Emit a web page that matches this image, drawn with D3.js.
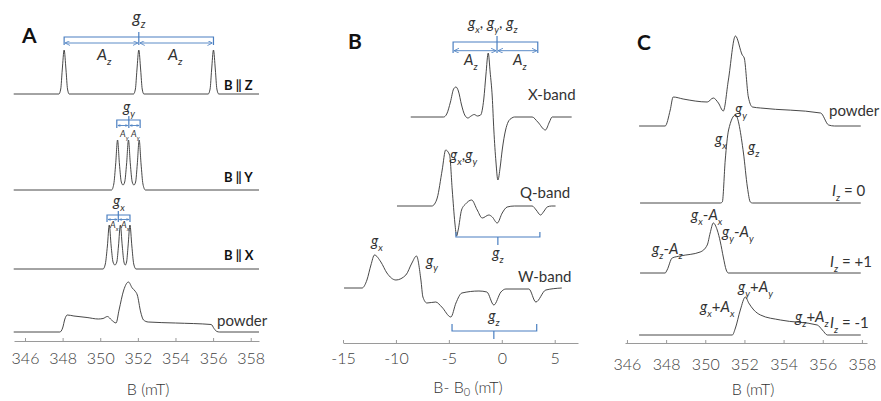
<!DOCTYPE html>
<html>
<head>
<meta charset="utf-8">
<script src="https://cdn.jsdelivr.net/npm/d3@7"></script>
<style>
  body { margin: 0; background: #fff; }
  svg { display: block; font-family: Lato, "Open Sans", sans-serif; }
  text { white-space: pre; }
</style>
</head>
<body>
<svg id="chart" width="881" height="401"></svg>
<script>
// ---- tick values
const ticksA = [346, 348, 350, 352, 354, 356, 358];
const ticksB = [-15, -10, -5, 0, 5];
const ticksC = [346, 348, 350, 352, 354, 356, 358];

// ---- Panel A spectra: [B (mT), intensity (a.u.)]
const specZ = [[345.4,0],[347.8,0],[347.9,0.5],[347.98,2.4],[348.08,4.4],[348.18,2.4],[348.26,0.5],[348.35,0],
  [351.77,0],[351.87,0.5],[351.95,2.4],[352.05,4.4],[352.15,2.4],[352.23,0.5],[352.32,0],
  [355.74,0],[355.84,0.5],[355.92,2.4],[356.02,4.4],[356.12,2.4],[356.2,0.5],[356.3,0],[358.44,0]];
const specY = [[345.4,0],[350.6,0],[350.72,0.6],[350.82,2.6],[350.92,5.0],[351.02,2.6],[351.12,0.8],[351.21,0.5],
  [351.3,0.8],[351.4,2.6],[351.5,5.0],[351.6,2.6],[351.7,0.8],[351.79,0.5],[351.88,0.8],[351.97,2.6],
  [352.07,5.0],[352.17,2.6],[352.27,0.6],[352.4,0],[358.44,0]];
const specX = [[345.4,0],[350.15,0],[350.27,0.5],[350.38,2.3],[350.48,4.4],[350.58,2.3],[350.68,0.7],[350.78,0.4],
  [350.88,0.7],[350.97,2.3],[351.07,4.4],[351.17,2.3],[351.26,0.7],[351.33,0.4],[351.4,0.7],[351.48,2.3],
  [351.58,4.4],[351.68,2.3],[351.78,0.5],[351.9,0],[358.44,0]];
const powderA = [[345.4,0],[347.85,0],[348.0,0.4],[348.12,1.3],[348.25,1.7],[348.6,1.6],[349.3,1.45],[349.9,1.3],
  [350.15,1.35],[350.38,1.55],[350.6,1.2],[350.84,0.9],[351.0,2.2],[351.25,4.2],[351.5,5.0],[351.7,4.4],
  [351.85,4.1],[351.97,3.7],[352.15,2.0],[352.3,1.2],[352.55,1.0],[354,0.9],[355.9,0.75],[356.05,0.35],
  [356.2,0.05],[356.35,0],[358.44,0]];

// ---- Panel B spectra: [B - B0 (mT), intensity (a.u.)]
const xBand = [[-8.6,0],[-5.5,0],[-5.2,0.3],[-4.85,1.5],[-4.55,2.8],[-4.33,3.0],[-4.1,2.6],[-3.8,1.2],[-3.5,0.2],
  [-3.2,-0.1],[-2.9,0.1],[-2.6,0.25],[-2.3,0.1],[-2.0,0.2],[-1.7,1.8],[-1.5,4.2],[-1.28,6.4],[-1.1,4.5],
  [-0.9,2.0],[-0.75,-1.3],[-0.55,-4.5],[-0.37,-6.3],[-0.15,-5.0],[0.04,-3.3],[0.36,-1.3],[0.6,-0.5],
  [0.95,-0.1],[1.2,0],[2.87,0],[3.4,-0.5],[4.12,-1.3],[4.5,-0.5],[4.76,0],[6.6,0]];
const qBand = [[-9.9,0],[-6.6,0],[-6.35,0.2],[-6.1,0.8],[-5.63,3.6],[-5.3,5.6],[-4.93,5.1],[-4.68,1.6],[-4.43,-1.7],
  [-4.27,-3.0],[-4.12,-2.4],[-3.8,-0.4],[-3.42,0.2],[-2.85,0.6],[-2.32,-0.4],[-1.85,-1.2],[-1.22,-0.9],
  [-0.9,-1.1],[-0.43,-1.7],[0.04,-0.7],[0.51,-0.1],[1.2,0],[2.87,0],[3.25,-0.4],[3.66,-0.9],[4.0,-0.5],
  [4.29,-0.1],[4.7,0],[5.08,0]];
const wBand = [[-14.9,0],[-13.2,0],[-12.74,0.8],[-12.36,2.3],[-12.03,3.3],[-11.42,2.6],[-10.85,1.5],[-10.0,0.8],
  [-9.06,1.3],[-8.49,2.5],[-8.06,3.2],[-7.64,0.8],[-7.45,-0.9],[-7.07,-1.5],[-6.24,-1.4],[-5.67,-1.9],
  [-4.81,-2.9],[-4.33,-1.5],[-3.77,-0.5],[-2.16,-0.3],[-1.41,-0.4],[-0.75,-1.7],[-0.08,-0.4],[0.39,-0.1],
  [2.56,-0.1],[3.22,-1.4],[4.16,-0.2],[5.67,0]];

// ---- Panel C spectra: [B (mT), intensity (a.u.)]
const powderC = [[346.62,0],[347.95,0],[348.21,1.6],[348.36,2.9],[348.87,2.7],[350.1,2.4],[350.41,2.8],[350.67,2.3],
  [350.92,1.5],[351.18,4.6],[351.54,9.0],[351.89,7.1],[351.99,6.8],[352.2,2.9],[352.41,1.9],[352.82,1.8],
  [355.89,1.3],[356.3,0.1],[356.6,0],[357.94,0]];
const iz0 = [[346.67,0],[350.77,0],[350.87,0.1],[351.02,4.3],[351.19,7.3],[351.54,8.8],[351.95,5.0],[352.15,1.6],
  [352.3,0.1],[352.41,0],[357.94,0]];
const izPlus = [[346.67,0],[347.95,0],[348.05,0.3],[348.31,1.5],[348.72,1.7],[349.74,2.1],[350.1,2.8],[350.25,4.0],
  [350.41,5.0],[350.61,4.3],[350.77,3.1],[350.92,1.6],[351.07,0.3],[351.18,0],[357.94,0]];
const izMinus = [[346.62,0],[351.38,0],[351.54,0.7],[351.79,2.5],[352.05,3.8],[352.22,3.2],[352.48,2.5],[352.82,2.0],
  [353.84,1.5],[355.72,1.0],[355.98,0.5],[356.24,0],[357.94,0]];

// ---- layout
const svg = d3.select("#chart");
const blue = "#4a7fc1", ink = "#333", txt = "#333";

const xA = d3.scaleLinear().domain([345.415, 358.44]).range([14, 259]);
const xB = d3.scaleLinear().domain([-15, 7.2]).range([343, 578]);
const xC = d3.scaleLinear().domain([345.9, 358.26]).range([625, 867]);
const amp = d3.scaleLinear().domain([0, 1]).range([0, -10]);

const defs = svg.append("defs");
[["arrBig", 5], ["arrSmall", 3]].forEach(([id, s]) => {
  defs.append("marker").attr("id", id).attr("viewBox", "0 -5 10 10")
    .attr("refX", 10).attr("refY", 0).attr("markerWidth", s).attr("markerHeight", s)
    .attr("markerUnits", "userSpaceOnUse").attr("orient", "auto-start-reverse")
    .append("path").attr("d", "M0,-5L10,0L0,5").attr("fill", "none")
    .attr("stroke", blue).attr("stroke-width", 1.6);
});

// traces
const traces = [
  { data: specZ, x: xA, base: 94 },
  { data: specY, x: xA, base: 190 },
  { data: specX, x: xA, base: 269 },
  { data: powderA, x: xA, base: 332 },
  { data: xBand, x: xB, base: 117 },
  { data: qBand, x: xB, base: 206 },
  { data: wBand, x: xB, base: 288 },
  { data: powderC, x: xC, base: 126 },
  { data: iz0, x: xC, base: 203 },
  { data: izPlus, x: xC, base: 273 },
  { data: izMinus, x: xC, base: 335 }
];
traces.forEach(t => {
  const line = d3.line().x(d => t.x(d[0])).y(d => amp(d[1])).curve(d3.curveMonotoneX);
  svg.append("g").attr("transform", `translate(0,${t.base})`)
    .append("path").datum(t.data).attr("d", line)
    .attr("fill", "none").attr("stroke", ink).attr("stroke-width", 0.9);
});

// axes
function axis(x, ticks, y, pad) {
  const g = svg.append("g").attr("transform", `translate(0,${y})`)
    .call(d3.axisBottom(x).tickValues(ticks).tickFormat(d => String(d))
      .tickSizeInner(-3).tickSizeOuter(0).tickPadding(pad));
  g.select(".domain").attr("stroke", "#9a9a9a");
  g.selectAll(".tick line").attr("stroke", "#9a9a9a");
  g.selectAll(".tick text").attr("fill", "#404040").attr("font-size", 16)
    .attr("font-weight", 300).attr("font-family", "Lato, sans-serif");
}
axis(xA, ticksA, 341, 11.6);
axis(xB, ticksB, 343, 9.6);
axis(xC, ticksC, 343, 15.6);

// rich text: "_c" subscript, letters italic
function rich(x, y, str, size, anchor) {
  const t = svg.append("text").attr("x", x).attr("y", y).attr("font-size", size)
    .attr("fill", txt).attr("text-anchor", anchor || "start");
  const runs = [];
  for (let k = 0; k < str.length; k++) {
    const c = str[k];
    if (c === "_") { runs.push({ s: str[++k], sub: true, it: true }); continue; }
    const it = /[A-Za-z]/.test(c);
    const last = runs[runs.length - 1];
    if (last && !last.sub && last.it === it) last.s += c;
    else runs.push({ s: c, sub: false, it });
  }
  let down = false;
  const shift = size * 0.3;
  runs.forEach(r => {
    const ts = t.append("tspan").text(r.s).attr("font-style", r.it ? "italic" : "normal");
    if (r.sub) { ts.attr("font-size", size * 0.65); if (!down) ts.attr("dy", shift); down = true; }
    else { if (down) ts.attr("dy", -shift); down = false; }
  });
  return t;
}
function plain(x, y, str, size, opts = {}) {
  return svg.append("text").attr("x", x).attr("y", y).attr("font-size", size)
    .attr("fill", opts.fill || txt).attr("font-weight", opts.bold ? 700 : (opts.weight || 400))
    .attr("text-anchor", opts.anchor || "start").text(str);
}

// brackets
function bracket(x0, x1, xc, yLine, yEnd, yTip, arrowY, marker) {
  const g = svg.append("g").attr("stroke", blue).attr("fill", "none").attr("stroke-width", 1.2);
  g.append("path").attr("d", `M${x0},${yEnd}V${yLine}H${x1}V${yEnd}M${xc},${yTip}V${arrowY == null ? yLine : yEnd}`);
  if (arrowY != null) {
    [[x0, xc], [xc, x1]].forEach(([a, b]) => {
      g.append("line").attr("x1", a + 1).attr("x2", b - 1).attr("y1", arrowY).attr("y2", arrowY)
        .attr("stroke-width", 0.9)
        .attr("marker-start", `url(#${marker})`).attr("marker-end", `url(#${marker})`);
    });
  }
}

// ---- Panel A annotations
plain(22, 43, "A", 21, { bold: true, fill: "#111" });
bracket(xA(348.08), xA(356.02), xA(352.05), 37, 45, 32, 43, "arrBig");
rich(139, 23, "g_z", 17, "middle");
rich(97, 60, "A_z", 16);
rich(168, 60, "A_z", 16);
bracket(xA(350.88), xA(352.12), xA(351.52), 120, 128, 116, 125.5, "arrSmall");
rich(129, 112, "g_y", 15, "middle");
rich(120, 137, "A_y", 9);
rich(131, 137, "A_y", 9);
bracket(xA(350.36), xA(351.58), xA(350.96), 215, 222, 211, 219.5, "arrSmall");
rich(119, 206, "g_x", 15, "middle");
rich(110, 228, "A_x", 9);
rich(121, 228, "A_x", 9);
plain(224, 90, "B \u2016 Z", 13, { bold: true, fill: "#111" });
plain(224, 182, "B \u2016 Y", 13, { bold: true, fill: "#111" });
plain(224, 260, "B \u2016 X", 13, { bold: true, fill: "#111" });
plain(217, 326, "powder", 15);
plain(148, 395, "B (mT)", 16, { anchor: "middle", weight: 300 });

// ---- Panel B annotations
plain(348, 49, "B", 21, { bold: true, fill: "#111" });
bracket(xB(-4.6), xB(3.4), xB(-0.45), 42, 53, 36, 50.7, "arrBig");
rich(468, 28, "g_x, g_y, g_z", 15);
rich(464, 65, "A_z", 15);
rich(513, 65, "A_z", 15);
plain(528, 100, "X-band", 15);
rich(450, 160, "g_x,g_y", 15);
plain(520, 198, "Q-band", 15);
bracket(xB(-4.33), xB(3.6), xB(-0.37), 237, 232, 245, null);
rich(xB(-0.37), 258, "g_z", 15, "middle");
rich(377, 246, "g_x", 15, "middle");
rich(432, 266, "g_y", 15, "middle");
plain(518, 282, "W-band", 15);
bracket(xB(-4.7), xB(3.3), xB(-0.75), 331, 324, 339, null);
rich(xB(-0.75), 321, "g_z", 15, "middle");
const tB = plain(468, 393, "B- B", 16, { anchor: "middle", weight: 300 });
tB.append("tspan").attr("font-size", 11).attr("dy", 3).text("0");
tB.append("tspan").attr("dy", -3).text(" (mT)");

// ---- Panel C annotations
plain(637, 50, "C", 21, { bold: true, fill: "#111" });
plain(829, 116, "powder", 15);
rich(735, 114, "g_y", 15);
rich(715, 144, "g_x", 15);
rich(748, 152, "g_z", 15);
rich(832, 196, "I_z = 0", 15);
rich(691, 220, "g_x-A_x", 15);
rich(722, 237, "g_y-A_y", 15);
rich(652, 254, "g_z-A_z", 15);
rich(830, 267, "I_z = +1", 15);
rich(738, 292, "g_y+A_y", 15);
rich(700, 312, "g_x+A_x", 15);
rich(795, 322, "g_z+A_z", 15);
rich(830, 328, "I_z = -1", 15);
plain(753, 395, "B (mT)", 16, { anchor: "middle", weight: 300 });
</script>
</body>
</html>
